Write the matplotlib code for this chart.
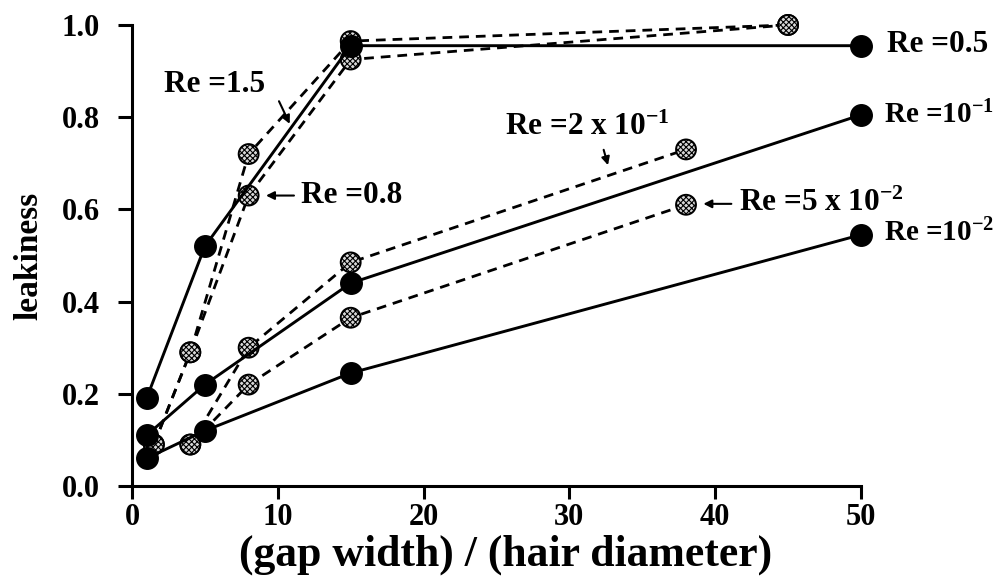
import matplotlib
matplotlib.use("Agg")
import matplotlib.pyplot as plt

plt.rcParams['font.family'] = ['Liberation Serif', 'DejaVu Serif']
plt.rcParams['font.weight'] = 'bold'
plt.rcParams['mathtext.fontset'] = 'custom'
plt.rcParams['mathtext.rm'] = 'Liberation Serif:bold'
plt.rcParams['mathtext.it'] = 'Liberation Serif:bold'
plt.rcParams['mathtext.bf'] = 'Liberation Serif:bold'
plt.rcParams['hatch.linewidth'] = 0.8

# solid series (filled black markers)
x_re05 = [1, 5, 15, 50]
y_re05 = [0.19, 0.52, 0.955, 0.955]
x_re1e1 = [1, 5, 15, 50]
y_re1e1 = [0.11, 0.22, 0.44, 0.805]
x_re1e2 = [1, 5, 15, 50]
y_re1e2 = [0.06, 0.12, 0.245, 0.545]

# dashed series (hatched grey markers)
x_re15 = [1.5, 4, 8, 15, 45]
y_re15 = [0.09, 0.29, 0.72, 0.965, 1.0]
x_re08 = [1.5, 4, 8, 15, 45]
y_re08 = [0.09, 0.29, 0.63, 0.925, 1.0]
x_re2e1 = [4, 8, 15, 38]
y_re2e1 = [0.09, 0.30, 0.485, 0.73]
x_re5e2 = [4, 8, 15, 38]
y_re5e2 = [0.09, 0.22, 0.365, 0.61]

fig = plt.figure(figsize=(10.03, 5.80), dpi=100)
ax = fig.add_axes([0.1316, 0.162, 0.7268, 0.795])

dashed = [(x_re15, y_re15), (x_re08, y_re08), (x_re2e1, y_re2e1), (x_re5e2, y_re5e2)]
for xs, ys in dashed:
    ax.plot(xs, ys, color='black', lw=2.0, ls=(0, (3.5, 2.5)), zorder=2, clip_on=False)
    ax.scatter(xs, ys, s=205, marker='o', facecolors='#d8d8d8', edgecolors='black',
               hatch='xxxxxx', linewidths=1.4, zorder=3, clip_on=False)

solid = [(x_re05, y_re05), (x_re1e1, y_re1e1), (x_re1e2, y_re1e2)]
for xs, ys in solid:
    ax.plot(xs, ys, color='black', lw=2.1, zorder=4, clip_on=False)
    ax.plot(xs, ys, ls='none', marker='o', ms=15.5, color='black', zorder=5, clip_on=False)

ax.set_xlim(0, 50)
ax.set_ylim(0, 1.0)
ax.set_xticks([0, 10, 20, 30, 40, 50])
ax.set_yticks([0.0, 0.2, 0.4, 0.6, 0.8, 1.0])
ax.set_yticklabels(['0.0', '0.2', '0.4', '0.6', '0.8', '1.0'])
ax.spines['top'].set_visible(False)
ax.spines['right'].set_visible(False)
for s in ['left', 'bottom']:
    ax.spines[s].set_linewidth(2.2)
ax.tick_params(axis='x', direction='out', length=9, width=2.2, labelsize=22, pad=3)
ax.tick_params(axis='y', direction='out', length=10, width=2.2, labelsize=22, pad=13)
for lab in ax.get_xticklabels() + ax.get_yticklabels():
    lab.set_fontweight('bold')

ax.set_xlabel('(gap width) / (hair diameter)', fontsize=31.5, fontweight='bold')
ax.xaxis.set_label_coords(0.513, -0.105)
ax.set_ylabel('leakiness', fontsize=24, fontweight='bold')
ax.yaxis.set_label_coords(-0.12, 0.5)

fs = 22.5
fs_small = 21
ax.text(51.8, 0.957, 'Re =0.5', fontsize=fs, va='center', ha='left', clip_on=False)
ax.text(51.6, 0.805, r'Re =10$^{-1}$', fontsize=fs_small, va='center', ha='left', clip_on=False)
ax.text(51.6, 0.549, r'Re =10$^{-2}$', fontsize=fs_small, va='center', ha='left', clip_on=False)
ax.text(41.6, 0.612, r'Re =5 x 10$^{-2}$', fontsize=fs, va='center', ha='left')
ax.text(25.6, 0.777, r'Re =2 x 10$^{-1}$', fontsize=fs, va='center', ha='left')
ax.text(11.6, 0.63, 'Re =0.8', fontsize=fs, va='center', ha='left')
ax.text(2.2, 0.87, 'Re =1.5', fontsize=fs, va='center', ha='left')

arrow = dict(arrowstyle='-|>', color='black', lw=1.5, mutation_scale=12)
ax.annotate('', xy=(10.9, 0.78), xytext=(10.0, 0.84), arrowprops=arrow)
ax.annotate('', xy=(9.0, 0.63), xytext=(11.3, 0.63), arrowprops=arrow)
ax.annotate('', xy=(32.7, 0.69), xytext=(32.3, 0.735), arrowprops=arrow)
ax.annotate('', xy=(39.0, 0.612), xytext=(41.3, 0.612), arrowprops=arrow)

fig.savefig('out.png', dpi=100)
